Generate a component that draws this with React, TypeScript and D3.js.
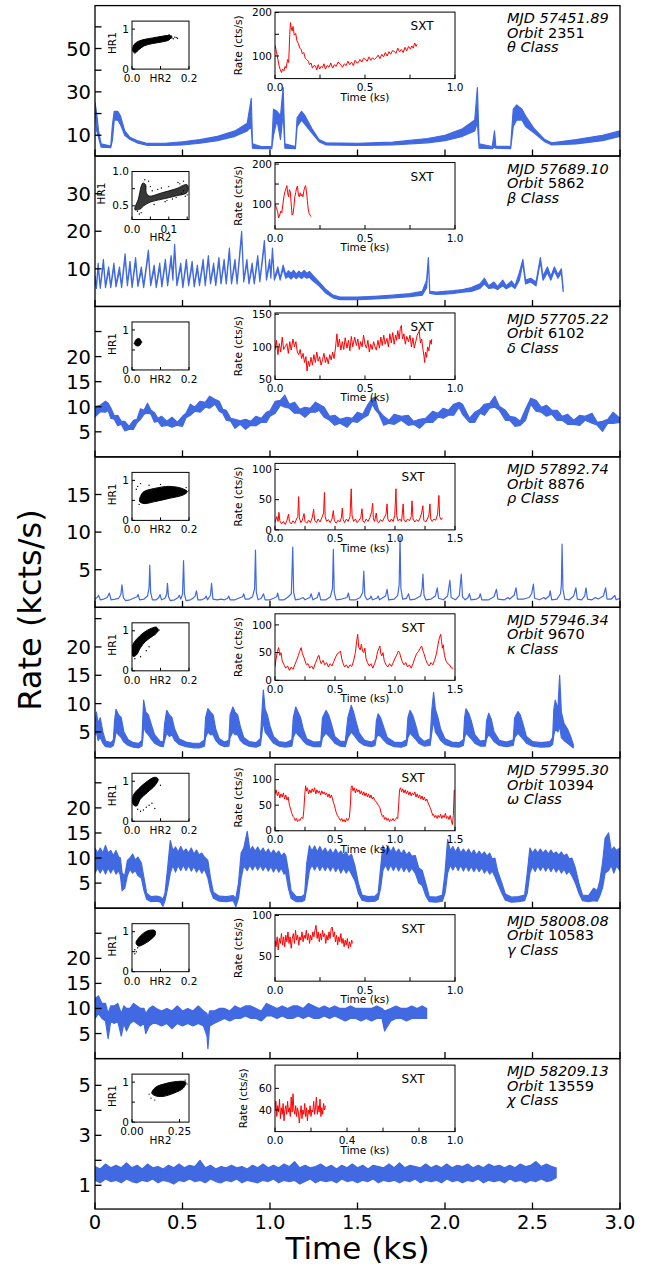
import React from "react";
import * as d3 from "d3";

// ---------- main light curves: [time (ks), low, high] in kcts/s ----------
const thetaLC = [
  [0, 22, 25], [0.01, 12, 20], [0.02, 9, 12], [0.035, 4.5, 6], [0.09, 4.3, 5], [0.1, 8, 15], [0.11, 17, 21],
  [0.13, 17, 21], [0.145, 15, 19], [0.17, 10, 12], [0.2, 8, 9], [0.24, 6.5, 7.5], [0.3, 5.3, 6.2], [0.4, 5.3, 6.3],
  [0.5, 5.5, 7], [0.6, 6.3, 8], [0.7, 7.5, 9.5], [0.8, 9.5, 12], [0.87, 12, 15.5], [0.893, 14, 27], [0.9, 4, 6],
  [0.95, 3.8, 4.8], [1.01, 3.8, 4.8], [1.02, 10, 22], [1.04, 17, 21], [1.06, 8, 19], [1.075, 20, 32], [1.085, 4, 6],
  [1.145, 3.8, 4.8], [1.155, 14, 18], [1.18, 17, 21], [1.2, 15, 19], [1.24, 11, 13], [1.28, 7, 8], [1.32, 5.5, 6.5],
  [1.5, 5.3, 6.3], [1.7, 5.5, 6.8], [1.9, 6.5, 8.5], [2.0, 7.5, 10], [2.1, 9.5, 13], [2.17, 12, 17], [2.185, 16, 32],
  [2.195, 4, 6], [2.27, 3.8, 4.8], [2.283, 4.5, 12], [2.29, 4, 5], [2.375, 3.8, 4.8], [2.39, 14, 22], [2.41, 17, 24],
  [2.44, 17, 22], [2.46, 14, 19], [2.51, 11, 13], [2.57, 7, 8], [2.61, 5.5, 6.5], [2.75, 6, 8], [2.9, 7.5, 10], [3.0, 9.5, 12],
];

const betaLC = [
  [0, 7, 8], [0.008, 4.8, 5.2], [0.018, 10.5, 11.5], [0.03, 4.8, 5.3], [0.048, 11.5, 12.5], [0.06, 5, 5.5],
  [0.078, 9.5, 10.5], [0.09, 5, 5.5], [0.108, 10.5, 11.5], [0.12, 5.2, 5.8], [0.14, 9.5, 10.5], [0.152, 5, 5.5],
  [0.172, 13, 14], [0.185, 5.5, 6], [0.2, 11, 12], [0.212, 5, 5.5], [0.232, 12, 13], [0.245, 5.3, 5.8],
  [0.265, 9.5, 10.5], [0.278, 5, 5.5], [0.305, 14, 15], [0.318, 5.5, 6], [0.338, 10, 11], [0.35, 5, 5.5],
  [0.37, 10.5, 11.5], [0.382, 5.2, 5.7], [0.402, 11.5, 12.5], [0.415, 5.5, 6], [0.435, 12.5, 13.5], [0.445, 7, 8],
  [0.455, 15.5, 16.5], [0.468, 5.5, 6], [0.49, 10.5, 11.5], [0.502, 5, 5.5], [0.522, 11.5, 12.5], [0.535, 5.5, 6],
  [0.555, 11, 12], [0.567, 5.2, 5.7], [0.585, 10, 11], [0.597, 5.5, 6], [0.618, 11.5, 12.5], [0.63, 5.5, 6],
  [0.648, 12.5, 13.5], [0.66, 6, 6.5], [0.678, 10.5, 11.5], [0.69, 5.5, 6], [0.708, 12, 13], [0.72, 6, 6.5],
  [0.738, 11.5, 12.5], [0.75, 6, 6.5], [0.768, 14.5, 15.5], [0.78, 6, 6.5], [0.8, 11.5, 12.5], [0.812, 6, 6.5],
  [0.838, 19, 20], [0.85, 6.5, 7], [0.868, 11.5, 12.5], [0.88, 6, 6.5], [0.898, 10.5, 11.5], [0.91, 6, 6.5],
  [0.93, 12.5, 13.5], [0.942, 6.5, 7], [0.968, 16.5, 17.5], [0.98, 7, 7.5], [0.998, 11.5, 12.5], [1.005, 7.5, 8],
  [1.014, 14.5, 15.5], [1.025, 7, 7.5], [1.045, 9.5, 10.5], [1.058, 7, 7.5], [1.075, 10, 11], [1.09, 7.5, 8.5],
  [1.105, 8, 9.5], [1.12, 7.3, 8.8], [1.135, 8, 9.6], [1.15, 7.4, 8.6], [1.165, 8, 9.4], [1.18, 7.4, 8.8],
  [1.195, 8, 9.6], [1.21, 7.5, 8.8], [1.225, 7.8, 9.3], [1.24, 7, 8.5], [1.28, 5.5, 6.5],
  [1.32, 3.5, 4.5], [1.36, 2.3, 3], [1.4, 1.8, 2.5], [1.5, 1.8, 2.5], [1.6, 2, 2.7], [1.7, 2.3, 3], [1.8, 2.6, 3.4],
  [1.87, 3, 4], [1.895, 5, 7], [1.905, 12, 13], [1.913, 3.5, 4], [1.95, 3.2, 3.8], [2.0, 3.3, 4], [2.05, 3.5, 4.2],
  [2.1, 3.8, 4.5], [2.15, 4, 5], [2.2, 4.8, 6], [2.225, 6, 7.5], [2.25, 4.8, 5.5], [2.28, 5, 6.5], [2.3, 4.5, 5.3],
  [2.33, 5.5, 7], [2.35, 4.7, 5.5], [2.38, 5.5, 6.8], [2.4, 4.8, 5.5], [2.425, 7, 9], [2.445, 11.5, 12.5],
  [2.46, 6, 7], [2.49, 6.5, 7.5], [2.52, 5.5, 6.5], [2.545, 12, 13], [2.56, 7, 8], [2.585, 9, 10.5],
  [2.605, 7, 8], [2.625, 9.5, 10.5], [2.645, 7.5, 8.5], [2.665, 9, 10], [2.675, 4, 5],
];

const deltaLC = [
  [0, 8, 10], [0.03, 9, 10.3], [0.06, 8.9, 11.1], [0.075, 9.3, 10.7], [0.09, 7.7, 9.8], [0.11, 7.5, 8.2],
  [0.13, 6.2, 8.3], [0.15, 6.5, 7.1], [0.17, 5.2, 7.1], [0.195, 5.5, 6.1], [0.22, 5.5, 7.3], [0.24, 6.8, 7.5],
  [0.26, 7.5, 9.6], [0.28, 8.5, 9.3], [0.3, 8.7, 10.7], [0.32, 8.5, 9.3], [0.34, 6.9, 8.8], [0.36, 7.1, 7.7],
  [0.38, 6.1, 8.1], [0.41, 6.3, 7.1], [0.44, 5.9, 7.9], [0.47, 6.3, 6.9], [0.5, 6.1, 8.1], [0.52, 7.8, 8.7],
  [0.545, 8.3, 10.5], [0.57, 9.1, 9.9], [0.6, 8.9, 11.1], [0.63, 9.9, 10.9], [0.655, 9.7, 12.1], [0.685, 10.5, 11.5],
  [0.71, 9.1, 11.1], [0.73, 8.7, 9.5], [0.75, 7.3, 9.3], [0.775, 7.1, 7.7], [0.8, 5.7, 7.5], [0.83, 6.5, 7.2],
  [0.86, 5.5, 7.5], [0.89, 6.3, 7.1], [0.92, 6.2, 8.1], [0.95, 6.9, 7.7], [0.98, 6.9, 8.9], [1.0, 8.1, 9.2],
  [1.03, 8.7, 11.1], [1.06, 10.3, 11.3], [1.085, 9.9, 12.3], [1.11, 9.7, 10.5], [1.14, 8.7, 10.9], [1.17, 8.7, 9.5],
  [1.2, 7.9, 9.9], [1.23, 8.9, 9.7], [1.26, 8.9, 10.9], [1.28, 9.3, 10.5], [1.31, 7.9, 9.9], [1.34, 7.3, 8.1],
  [1.37, 6.3, 8.3], [1.4, 6.7, 7.5], [1.44, 5.9, 7.9], [1.47, 7.1, 7.7], [1.5, 6.9, 8.9], [1.53, 7.7, 8.5],
  [1.56, 8.3, 10.5], [1.585, 10.5, 11.7], [1.6, 9.5, 11.9], [1.62, 8.7, 9.3], [1.65, 6.3, 8.1], [1.68, 6.7, 7.3],
  [1.71, 6.5, 8.5], [1.75, 7.3, 8.1], [1.79, 6.3, 8.3], [1.82, 6.5, 7.1], [1.855, 5.7, 7.5], [1.89, 6.9, 7.7],
  [1.93, 6.9, 9.1], [1.96, 7.9, 8.7], [1.99, 7.7, 9.7], [2.02, 8.3, 9.3], [2.05, 8.3, 10.5], [2.08, 9.9, 10.9],
  [2.1, 8.5, 10.5], [2.14, 6.9, 7.7], [2.17, 6.9, 8.9], [2.2, 8.7, 9.5], [2.225, 8.3, 10.5], [2.255, 9.7, 10.7],
  [2.285, 9.9, 12.1], [2.31, 9.3, 10.1], [2.345, 7.3, 9.3], [2.37, 7.3, 8.1], [2.4, 6.1, 7.9], [2.43, 6.3, 7.1],
  [2.46, 7.3, 9.5], [2.49, 10.5, 11.7], [2.52, 9.1, 11.3], [2.55, 8.9, 9.9], [2.58, 8.1, 10.3], [2.61, 8.5, 9.3],
  [2.64, 7.3, 9.3], [2.67, 7.3, 8.1], [2.7, 6.5, 8.5], [2.735, 6.5, 7.3], [2.77, 6.3, 8.3], [2.8, 7.3, 8.1],
  [2.84, 6.7, 8.7], [2.87, 6.3, 6.9], [2.9, 5.1, 7.1], [2.93, 6.7, 7.5], [2.96, 6.7, 8.9], [3.0, 6.9, 7.7],
];

const rhoLC = [
  [0, 1.1], [0.012, 1.3], [0.02, 1.6], [0.03, 1.0], [0.05, 1.1], [0.07, 1.3], [0.082, 1.9], [0.092, 1.0],
  [0.115, 1.1], [0.135, 1.2], [0.148, 1.7], [0.154, 3.0], [0.162, 1.3], [0.175, 0.9], [0.2, 1.0], [0.22, 1.2],
  [0.24, 1.4], [0.246, 1.7], [0.255, 1.0], [0.28, 1.1], [0.3, 1.5], [0.309, 2.6], [0.313, 5.6], [0.318, 2.0],
  [0.328, 1.0], [0.35, 1.0], [0.365, 1.3], [0.372, 1.7], [0.38, 1.0], [0.4, 1.2], [0.41, 1.8], [0.414, 3.2],
  [0.42, 1.4], [0.43, 0.9], [0.455, 1.0], [0.475, 1.3], [0.482, 1.6], [0.49, 1.1], [0.5, 1.7], [0.506, 6.2],
  [0.511, 1.8], [0.52, 0.9], [0.545, 1.0], [0.56, 1.2], [0.572, 1.5], [0.58, 2.2], [0.588, 1.0], [0.61, 1.0],
  [0.628, 1.2], [0.635, 1.5], [0.643, 1.0], [0.66, 1.6], [0.666, 3.2], [0.674, 1.1], [0.7, 1.0], [0.72, 1.1],
  [0.74, 1.0], [0.758, 1.2], [0.764, 1.5], [0.772, 1.0], [0.8, 1.0], [0.82, 1.2], [0.843, 1.4], [0.85, 1.8],
  [0.858, 1.1], [0.88, 1.1], [0.9, 1.4], [0.912, 2.5], [0.917, 7.6], [0.922, 2.0], [0.932, 1.0], [0.95, 1.2],
  [0.963, 1.8], [0.972, 1.0], [1.0, 1.0], [1.02, 1.2], [1.038, 1.4], [1.044, 1.9], [1.052, 1.0], [1.08, 1.0],
  [1.1, 1.3], [1.122, 1.8], [1.13, 8.0], [1.135, 2.0], [1.145, 1.0], [1.17, 1.1], [1.19, 1.3], [1.2, 1.0],
  [1.228, 1.3], [1.235, 1.8], [1.245, 1.0], [1.27, 1.3], [1.28, 2.0], [1.29, 1.0], [1.32, 1.0], [1.345, 1.4],
  [1.357, 2.5], [1.362, 7.7], [1.367, 2.0], [1.378, 1.0], [1.41, 1.1], [1.44, 1.3], [1.448, 1.9], [1.456, 1.0],
  [1.49, 1.0], [1.515, 1.3], [1.53, 2.0], [1.536, 4.8], [1.542, 1.5], [1.555, 1.0], [1.572, 1.2], [1.577, 1.5],
  [1.585, 1.0], [1.61, 1.2], [1.618, 1.5], [1.626, 1.0], [1.66, 1.5], [1.669, 2.4], [1.678, 1.0], [1.71, 1.1],
  [1.73, 1.6], [1.738, 3.0], [1.743, 9.3], [1.748, 2.5], [1.758, 1.1], [1.78, 1.2], [1.792, 1.8], [1.8, 1.0],
  [1.83, 1.1], [1.86, 1.5], [1.869, 2.5], [1.874, 4.4], [1.88, 1.6], [1.89, 1.0], [1.92, 1.1], [1.945, 1.5],
  [1.956, 2.6], [1.963, 1.2], [1.99, 1.0], [2.015, 1.5], [2.028, 3.6], [2.035, 1.3], [2.06, 1.0], [2.082, 1.6],
  [2.093, 4.4], [2.1, 1.4], [2.115, 1.0], [2.132, 1.3], [2.14, 1.8], [2.148, 1.0], [2.18, 1.1], [2.195, 1.3],
  [2.202, 1.8], [2.21, 1.0], [2.25, 1.0], [2.28, 1.4], [2.294, 2.4], [2.302, 1.1], [2.34, 1.0], [2.36, 1.3],
  [2.37, 1.1], [2.395, 1.6], [2.406, 2.6], [2.414, 1.1], [2.45, 1.1], [2.48, 1.3], [2.495, 1.8], [2.505, 3.1],
  [2.512, 1.2], [2.54, 1.0], [2.565, 1.3], [2.575, 1.1], [2.595, 1.5], [2.601, 2.2], [2.61, 1.0], [2.64, 1.1],
  [2.66, 1.8], [2.665, 3.0], [2.669, 8.4], [2.674, 2.4], [2.684, 1.1], [2.71, 1.0], [2.735, 1.5], [2.748, 2.6],
  [2.756, 1.1], [2.78, 1.0], [2.798, 1.5], [2.806, 2.6], [2.814, 1.1], [2.84, 1.0], [2.86, 1.3], [2.875, 1.1],
  [2.905, 1.5], [2.918, 2.6], [2.926, 1.1], [2.95, 1.1], [2.963, 1.4], [2.97, 1.6], [2.978, 1.0], [3.0, 1.2],
];

const kappaLC = [
  [0, 4.5, 6], [0.008, 5, 8.5], [0.018, 3.5, 6.5], [0.03, 4, 7.5], [0.045, 3, 5], [0.06, 2.4, 3.4], [0.09, 2.3, 3.1],
  [0.105, 2.6, 3.6], [0.112, 3.5, 7], [0.12, 5, 9], [0.135, 4.5, 8], [0.15, 4, 7.5], [0.165, 3.2, 5], [0.19, 2.6, 3.6],
  [0.22, 2.3, 3.1], [0.25, 2.2, 3], [0.268, 2.5, 3.5], [0.274, 4, 8], [0.278, 6, 10.6], [0.29, 5, 8.5], [0.305, 4.5, 8],
  [0.32, 3.8, 6.5], [0.34, 3, 4.5], [0.37, 2.5, 3.4], [0.39, 2.4, 3.2], [0.398, 3.5, 6.5], [0.41, 4.8, 8.8],
  [0.425, 4.2, 8], [0.44, 4.5, 7.5], [0.455, 3.5, 5.5], [0.48, 2.8, 3.8], [0.52, 2.4, 3.2], [0.56, 2.2, 3],
  [0.6, 2.2, 3], [0.625, 2.5, 3.6], [0.632, 4, 7.5], [0.645, 5, 9.1], [0.66, 4.5, 8.5], [0.675, 4.5, 8],
  [0.69, 3.5, 5.5], [0.71, 2.8, 3.8], [0.74, 2.4, 3.2], [0.765, 2.5, 3.5], [0.772, 4, 8], [0.788, 5, 9.4],
  [0.8, 4.5, 8.5], [0.815, 4.5, 8], [0.83, 3.5, 6], [0.85, 2.9, 4], [0.88, 2.5, 3.3], [0.92, 2.3, 3.1],
  [0.945, 2.6, 3.8], [0.955, 5, 9], [0.962, 7, 12.4], [0.972, 5, 9], [0.985, 4.5, 8], [1.0, 3.8, 6], [1.02, 3, 4.2],
  [1.05, 2.5, 3.3], [1.09, 2.3, 3.1], [1.125, 2.5, 3.6], [1.133, 4, 7.5], [1.147, 5, 9.4], [1.16, 4.5, 8.5],
  [1.175, 4, 7.5], [1.19, 3.4, 5.5], [1.21, 2.8, 3.8], [1.25, 2.4, 3.2], [1.29, 2.4, 3.3], [1.3, 4, 7.5],
  [1.32, 4.8, 8.8], [1.335, 4.3, 8], [1.35, 3.8, 6.5], [1.37, 3, 4.2], [1.4, 2.5, 3.4], [1.43, 2.4, 3.3],
  [1.445, 4, 7.5], [1.464, 5, 9.7], [1.478, 4.5, 8.5], [1.49, 4, 7], [1.51, 3.2, 4.8], [1.54, 2.6, 3.5],
  [1.58, 2.4, 3.2], [1.6, 2.6, 3.6], [1.608, 4, 7], [1.618, 4.5, 8.2], [1.632, 4.2, 7.5], [1.648, 3.6, 6],
  [1.67, 2.9, 4], [1.71, 2.4, 3.2], [1.75, 2.3, 3.1], [1.78, 2.6, 3.6], [1.788, 4, 7.5], [1.8, 4.8, 8.8],
  [1.815, 4.3, 8], [1.83, 3.8, 6.5], [1.85, 3, 4.2], [1.88, 2.5, 3.3], [1.915, 2.6, 3.8], [1.925, 5, 9],
  [1.935, 7, 12], [1.945, 5, 9], [1.96, 4.3, 7.5], [1.975, 3.5, 5.5], [2.0, 2.8, 3.8], [2.04, 2.4, 3.2],
  [2.08, 2.3, 3.1], [2.105, 2.6, 3.6], [2.112, 4, 7.5], [2.12, 4.8, 9.1], [2.135, 4.3, 8.3], [2.15, 3.8, 7],
  [2.17, 3, 4.5], [2.2, 2.5, 3.4], [2.23, 2.5, 3.5], [2.238, 3.8, 7], [2.25, 4.5, 8.3], [2.265, 4, 7.2],
  [2.28, 3.3, 5], [2.31, 2.6, 3.5], [2.35, 2.4, 3.2], [2.39, 2.6, 3.6], [2.398, 4, 7.5], [2.417, 4.8, 8.6],
  [2.43, 4.3, 8], [2.445, 3.8, 6.5], [2.465, 3, 4.2], [2.5, 2.5, 3.3], [2.55, 2.3, 3.1], [2.6, 2.4, 3.3],
  [2.615, 2.8, 4], [2.622, 4.5, 9], [2.63, 5.5, 10.6], [2.645, 5, 9], [2.655, 6, 15], [2.665, 4, 8.5],
  [2.68, 3.5, 6.5], [2.7, 3, 5.5], [2.72, 2.5, 4], [2.733, 2.2, 2.8],
];

const omegaLC = [
  [0, 7, 12], [0.015, 8, 11], [0.03, 7, 12], [0.045, 8, 11], [0.06, 6.8, 12.5], [0.075, 8, 11], [0.09, 7, 11.5],
  [0.105, 8, 10.5], [0.12, 6.8, 11.5], [0.135, 7.5, 10.2], [0.145, 6.5, 10], [0.155, 3.5, 7], [0.17, 4, 6.5],
  [0.185, 6.5, 9.5], [0.2, 7.8, 10], [0.215, 7, 10.8], [0.23, 7.5, 9.6], [0.245, 6.5, 10.2], [0.265, 6, 9],
  [0.28, 3.5, 6], [0.295, 1.8, 3], [0.32, 1.3, 2.3], [0.35, 1.4, 2.4], [0.375, 1.2, 2.2], [0.388, 0.4, 1.8],
  [0.4, 1.5, 3], [0.415, 4, 8], [0.43, 7, 13.5], [0.445, 8.5, 11.5], [0.46, 7.2, 12.2], [0.475, 8.5, 11.2],
  [0.49, 7.5, 12.3], [0.505, 8.6, 11.2], [0.52, 7.5, 11.8], [0.535, 8.5, 11], [0.55, 7.4, 12], [0.565, 8.3, 10.8],
  [0.58, 7.2, 11.6], [0.595, 8, 10.6], [0.61, 7, 11], [0.625, 7.8, 10.2], [0.645, 6, 9.5], [0.66, 3.5, 6],
  [0.676, 2, 3.2], [0.71, 1.4, 2.4], [0.75, 1.3, 2.3], [0.79, 1.5, 2.5], [0.805, 0.3, 2], [0.82, 2, 5],
  [0.835, 6, 11], [0.85, 8.5, 12], [0.87, 7.5, 15.3], [0.885, 8.6, 11.5], [0.9, 7.6, 12.3], [0.915, 8.6, 11.4],
  [0.93, 7.6, 12.2], [0.945, 8.5, 11.2], [0.96, 7.5, 12], [0.975, 8.4, 11], [0.99, 7.4, 11.8], [1.005, 8.3, 10.8],
  [1.02, 7.2, 11.6], [1.035, 8.2, 10.8], [1.05, 7.2, 11.4], [1.065, 8, 10.4], [1.08, 6.8, 11], [1.09, 7, 10.5],
  [1.105, 4, 7.5], [1.12, 2, 3.5], [1.15, 1.3, 2.3], [1.18, 1.3, 2.3], [1.198, 1.6, 2.8], [1.21, 4, 9],
  [1.225, 7.5, 12.5], [1.24, 8.6, 11.4], [1.255, 7.6, 12.4], [1.27, 8.6, 11.2], [1.285, 7.5, 12.3], [1.3, 8.5, 11.2],
  [1.315, 7.5, 12], [1.33, 8.4, 11], [1.345, 7.4, 11.8], [1.36, 8.4, 10.8], [1.375, 7.3, 11.8], [1.39, 8.2, 10.8],
  [1.405, 7, 11.4], [1.42, 8, 10.6], [1.435, 7, 11.2], [1.45, 7.8, 10.2], [1.465, 6.8, 10.8], [1.485, 5.5, 8.5],
  [1.505, 3, 5], [1.526, 1.6, 2.6], [1.56, 1.3, 2.3], [1.6, 1.4, 2.4], [1.618, 1.8, 3], [1.632, 4, 8],
  [1.645, 7.5, 12.5], [1.66, 8.6, 11.4], [1.675, 7.5, 12.4], [1.69, 8.6, 11.2], [1.705, 7.5, 12.2], [1.72, 8.5, 11],
  [1.735, 7.4, 11.8], [1.75, 8.4, 10.8], [1.765, 7.3, 11.6], [1.78, 8.2, 10.6], [1.795, 7.2, 11.2], [1.81, 8, 10.4],
  [1.83, 7, 10.5], [1.85, 5, 8], [1.87, 4.5, 7.5], [1.89, 2.5, 5], [1.91, 1.3, 2.3], [1.95, 1.2, 2.2],
  [1.985, 1.4, 2.6], [2.0, 3, 7], [2.015, 7, 13.7], [2.03, 8.6, 11.5], [2.045, 7.6, 12.3], [2.06, 8.6, 11.2],
  [2.075, 7.5, 12.2], [2.09, 8.5, 11], [2.105, 7.4, 11.8], [2.12, 8.4, 11], [2.135, 7.4, 11.8], [2.15, 8.3, 10.8],
  [2.165, 7.3, 11.6], [2.18, 8.2, 10.6], [2.195, 7.3, 11.4], [2.21, 8.1, 10.6], [2.225, 7, 11.2], [2.24, 7.8, 10.4],
  [2.255, 6.8, 11], [2.27, 7.4, 9.8], [2.285, 6.3, 10], [2.3, 5, 7.5], [2.325, 3, 5], [2.345, 1.6, 2.8],
  [2.38, 1.2, 2.2], [2.42, 1.3, 2.3], [2.455, 1.5, 2.6], [2.47, 3, 7], [2.485, 7, 12], [2.5, 8.3, 11],
  [2.515, 7.3, 11.8], [2.53, 8.4, 11], [2.545, 7.5, 11.8], [2.56, 8.4, 11], [2.575, 7.4, 11.6], [2.59, 8.3, 10.8],
  [2.605, 7.3, 11.6], [2.62, 8.2, 10.8], [2.635, 7.2, 11.2], [2.65, 8, 10.6], [2.665, 7, 11.2], [2.68, 7.8, 10.4],
  [2.695, 6.8, 10.8], [2.71, 7.4, 9.8], [2.725, 6.5, 10], [2.745, 5, 8], [2.765, 3, 5], [2.786, 1.5, 2.6],
  [2.82, 1.3, 2.5], [2.85, 1.5, 4], [2.87, 1.4, 3.5], [2.885, 2.5, 5.5], [2.9, 4, 9], [2.915, 7, 14],
  [2.935, 7.5, 15], [2.95, 8.5, 11.5], [2.965, 7, 12.2], [2.98, 8.4, 11.5], [3.0, 7.5, 12],
];

const gammaLC = [
  [0, 8, 12], [0.02, 9, 12.5], [0.04, 8, 11], [0.06, 7.5, 11], [0.075, 4, 9], [0.09, 7.5, 10.5], [0.11, 7, 10.5],
  [0.13, 7.5, 11], [0.15, 4.5, 9], [0.165, 7, 10.5], [0.18, 5.5, 10], [0.2, 7, 10], [0.22, 7.5, 11], [0.24, 7, 10.5],
  [0.26, 6.5, 10], [0.28, 7, 10], [0.29, 5, 9], [0.31, 6.5, 10], [0.33, 7, 10.5], [0.35, 7, 10], [0.38, 6.5, 9.5],
  [0.41, 7, 10], [0.44, 6, 9.5], [0.47, 7, 10.5], [0.5, 6.5, 9.5], [0.53, 7, 10], [0.56, 6.5, 9.5], [0.59, 7, 10.5],
  [0.62, 6.5, 9.5], [0.64, 4.5, 9], [0.645, 2, 8], [0.655, 6.5, 9.5], [0.68, 7, 9.5], [0.71, 7.5, 10], [0.74, 8, 10],
  [0.77, 7.5, 9.5], [0.8, 8, 10.5], [0.83, 8, 10], [0.86, 8.5, 10.5], [0.89, 8, 10.5], [0.92, 8, 10], [0.95, 7.5, 9.5],
  [0.98, 8.5, 11], [1.01, 8.5, 10.5], [1.04, 8, 10], [1.07, 8.5, 10.5], [1.1, 8, 10], [1.13, 8, 10.5],
  [1.16, 8.5, 10.5], [1.19, 8, 10], [1.22, 8.5, 11], [1.25, 8, 10.5], [1.28, 8, 10], [1.31, 8.5, 10.5],
  [1.34, 8, 10], [1.37, 8.5, 10.5], [1.4, 8, 10], [1.43, 7.5, 10], [1.46, 8, 10.5], [1.49, 8, 10], [1.52, 7.5, 10],
  [1.55, 8, 10], [1.58, 7.5, 10], [1.61, 8, 10.5], [1.64, 8, 10], [1.655, 5.5, 9.5], [1.69, 7.5, 10],
  [1.72, 8, 10.5], [1.75, 8, 10], [1.78, 7.5, 10], [1.81, 8, 10.5], [1.84, 8, 10], [1.87, 8, 10.5], [1.895, 8, 10],
];

const chiLC = [
  [0, 1.2, 1.75], [0.03, 1.1, 1.65], [0.06, 1.25, 1.85], [0.09, 1.15, 1.7], [0.12, 1.2, 1.8], [0.15, 1.1, 1.7],
  [0.18, 1.25, 1.9], [0.21, 1.15, 1.7], [0.24, 1.1, 1.8], [0.27, 1.2, 1.65], [0.3, 1.15, 1.85], [0.33, 1.25, 1.7],
  [0.36, 1.1, 1.75], [0.39, 1.2, 1.65], [0.42, 1.15, 1.8], [0.45, 1.05, 1.7], [0.48, 1.2, 1.85], [0.51, 1.15, 1.7],
  [0.54, 1.25, 1.8], [0.57, 1.15, 1.75], [0.6, 1.2, 2.0], [0.63, 1.1, 1.7], [0.66, 1.25, 1.8], [0.69, 1.15, 1.65],
  [0.72, 1.1, 1.75], [0.75, 1.2, 1.7], [0.78, 1.15, 1.8], [0.81, 1.25, 1.7], [0.84, 1.1, 1.75], [0.87, 1.2, 1.65],
  [0.9, 1.15, 1.8], [0.93, 1.1, 1.7], [0.96, 1.2, 1.85], [0.99, 1.15, 1.7], [1.02, 1.25, 1.8], [1.05, 1.1, 1.7],
  [1.08, 1.2, 1.85], [1.11, 1.15, 1.75], [1.14, 1.2, 1.95], [1.17, 1.05, 1.7], [1.2, 1.15, 1.8], [1.23, 1.25, 1.7],
  [1.26, 1.1, 1.75], [1.29, 1.2, 1.85], [1.32, 1.15, 1.7], [1.35, 1.2, 1.8], [1.38, 1.1, 1.65], [1.41, 1.25, 1.8],
  [1.44, 1.15, 1.7], [1.47, 1.2, 1.85], [1.5, 1.1, 1.7], [1.53, 1.2, 1.8], [1.56, 1.15, 1.65], [1.59, 1.25, 1.8],
  [1.62, 1.1, 1.75], [1.65, 1.2, 1.7], [1.68, 1.15, 1.85], [1.71, 1.2, 1.7], [1.74, 1.1, 1.9], [1.77, 1.2, 1.7],
  [1.8, 1.15, 1.8], [1.83, 1.25, 1.75], [1.86, 1.1, 1.7], [1.89, 1.2, 1.85], [1.92, 1.15, 1.7], [1.95, 1.2, 1.8],
  [1.98, 1.1, 1.7], [2.01, 1.25, 1.85], [2.04, 1.15, 1.7], [2.07, 1.2, 1.8], [2.1, 1.1, 1.75], [2.13, 1.2, 1.85],
  [2.16, 1.15, 1.7], [2.19, 1.25, 1.8], [2.22, 1.1, 1.7], [2.25, 1.2, 1.85], [2.28, 1.15, 1.75], [2.31, 1.2, 1.8],
  [2.34, 1.1, 1.7], [2.37, 1.25, 1.8], [2.4, 1.15, 1.7], [2.43, 1.2, 1.85], [2.46, 1.1, 1.75], [2.49, 1.2, 1.8],
  [2.52, 1.15, 1.95], [2.55, 1.25, 1.75], [2.58, 1.15, 1.85], [2.61, 1.2, 1.75], [2.635, 1.3, 1.7],
];

// ---------- SXT inset light curves: [time (ks), rate (cts/s)] ----------
const sxtTheta = [
  [0, 125], [0.008, 110], [0.016, 92], [0.024, 75], [0.03, 68], [0.036, 62], [0.042, 70], [0.05, 66], [0.056, 76],
  [0.062, 72], [0.07, 92], [0.076, 85], [0.082, 150], [0.086, 177], [0.09, 165], [0.095, 158], [0.1, 168],
  [0.107, 148], [0.115, 152], [0.122, 135], [0.13, 128], [0.138, 118], [0.145, 115], [0.152, 105], [0.16, 108],
  [0.168, 95], [0.176, 92], [0.185, 88], [0.192, 80], [0.2, 84], [0.208, 72], [0.216, 78], [0.225, 77], [0.232, 68],
  [0.24, 80], [0.248, 70], [0.256, 76], [0.264, 73], [0.272, 82], [0.28, 70], [0.29, 78], [0.3, 74], [0.31, 84],
  [0.32, 72], [0.33, 80], [0.34, 76], [0.35, 86], [0.364, 81], [0.375, 74], [0.385, 82], [0.395, 78], [0.405, 88],
  [0.415, 80], [0.425, 86], [0.435, 78], [0.445, 90], [0.455, 84], [0.463, 85], [0.472, 92], [0.482, 86],
  [0.492, 95], [0.503, 92], [0.512, 88], [0.522, 98], [0.532, 90], [0.542, 96], [0.552, 92], [0.563, 96],
  [0.573, 102], [0.583, 94], [0.593, 104], [0.603, 98], [0.613, 108], [0.623, 100], [0.633, 110], [0.643, 104],
  [0.652, 112], [0.662, 111], [0.672, 106], [0.682, 118], [0.692, 110], [0.702, 115], [0.712, 108], [0.722, 120],
  [0.732, 112], [0.742, 122], [0.752, 116], [0.76, 123], [0.768, 118], [0.776, 130], [0.784, 122], [0.79, 127],
];
const sxtBeta = [
  [0, 100], [0.008, 90], [0.015, 80], [0.02, 65], [0.026, 72], [0.032, 82], [0.038, 78], [0.044, 100], [0.05, 120],
  [0.056, 132], [0.062, 140], [0.066, 146], [0.07, 128], [0.075, 118], [0.08, 136], [0.085, 130], [0.09, 100],
  [0.095, 72], [0.1, 75], [0.105, 92], [0.11, 118], [0.115, 128], [0.12, 140], [0.125, 145], [0.13, 122],
  [0.135, 118], [0.14, 128], [0.145, 120], [0.15, 124], [0.155, 118], [0.16, 132], [0.165, 142], [0.17, 146],
  [0.175, 130], [0.18, 108], [0.185, 85], [0.19, 76], [0.195, 72], [0.2, 68],
];
const sxtDelta = [
  [0, 95], [0.008, 110], [0.016, 88], [0.024, 105], [0.032, 92], [0.04, 115], [0.048, 96], [0.056, 100],
  [0.066, 105], [0.074, 90], [0.082, 108], [0.09, 95], [0.1, 112], [0.108, 100], [0.116, 108], [0.124, 92],
  [0.132, 88], [0.14, 96], [0.148, 82], [0.156, 90], [0.164, 76], [0.172, 85], [0.178, 63], [0.185, 78],
  [0.192, 70], [0.2, 84], [0.208, 72], [0.216, 88], [0.224, 76], [0.232, 92], [0.24, 78], [0.248, 85],
  [0.256, 72], [0.264, 80], [0.272, 90], [0.28, 76], [0.288, 84], [0.296, 74], [0.304, 88], [0.312, 80],
  [0.32, 92], [0.328, 82], [0.336, 98], [0.344, 120], [0.35, 100], [0.358, 112], [0.366, 95], [0.374, 108],
  [0.382, 96], [0.39, 114], [0.4, 98], [0.408, 110], [0.416, 94], [0.424, 116], [0.432, 100], [0.443, 115],
  [0.452, 102], [0.46, 112], [0.468, 96], [0.476, 108], [0.484, 100], [0.492, 118], [0.5, 104], [0.508, 98],
  [0.516, 110], [0.524, 92], [0.532, 104], [0.54, 96], [0.548, 108], [0.556, 100], [0.563, 95], [0.572, 110],
  [0.58, 98], [0.588, 115], [0.596, 102], [0.604, 118], [0.612, 104], [0.622, 113], [0.63, 100], [0.638, 120],
  [0.646, 106], [0.654, 122], [0.662, 104], [0.67, 118], [0.676, 110], [0.682, 125], [0.69, 112], [0.696, 128],
  [0.702, 133], [0.708, 112], [0.716, 120], [0.724, 104], [0.732, 116], [0.742, 108], [0.75, 118], [0.758, 100],
  [0.766, 114], [0.774, 98], [0.782, 108], [0.79, 118], [0.801, 124], [0.808, 106], [0.815, 112], [0.822, 96],
  [0.828, 85], [0.831, 76], [0.836, 92], [0.842, 84], [0.848, 100], [0.855, 94], [0.862, 110], [0.868, 104],
  [0.871, 112],
];
const sxtRho = [
  [0, 12], [0.015, 22], [0.025, 14], [0.033, 29], [0.04, 15], [0.055, 10], [0.07, 14], [0.085, 9], [0.1, 16],
  [0.113, 26], [0.12, 14], [0.135, 10], [0.15, 15], [0.165, 11], [0.18, 18], [0.19, 22], [0.197, 55], [0.203, 20],
  [0.215, 12], [0.228, 16], [0.242, 27], [0.25, 14], [0.265, 11], [0.28, 16], [0.295, 12], [0.31, 20], [0.322, 34],
  [0.33, 16], [0.345, 12], [0.36, 18], [0.375, 13], [0.39, 20], [0.405, 28], [0.412, 62], [0.418, 22], [0.43, 14],
  [0.445, 17], [0.46, 12], [0.475, 18], [0.486, 32], [0.495, 15], [0.51, 11], [0.525, 16], [0.54, 13], [0.553, 20],
  [0.561, 36], [0.568, 17], [0.58, 12], [0.595, 18], [0.61, 14], [0.625, 22], [0.635, 68], [0.642, 24], [0.655, 14],
  [0.67, 18], [0.685, 12], [0.7, 16], [0.715, 20], [0.725, 35], [0.732, 15], [0.745, 12], [0.76, 18], [0.775, 14],
  [0.79, 20], [0.805, 30], [0.814, 44], [0.82, 18], [0.83, 14], [0.844, 28], [0.852, 14], [0.865, 12], [0.88, 17],
  [0.895, 14], [0.91, 20], [0.925, 26], [0.934, 43], [0.94, 18], [0.955, 13], [0.97, 18], [0.985, 14], [0.998, 24],
  [1.008, 68], [1.014, 24], [1.025, 15], [1.04, 18], [1.055, 14], [1.068, 43], [1.075, 17], [1.09, 13], [1.105, 18],
  [1.12, 15], [1.135, 22], [1.142, 48], [1.15, 18], [1.165, 13], [1.18, 17], [1.195, 14], [1.21, 20], [1.222, 28],
  [1.232, 40], [1.24, 16], [1.255, 13], [1.27, 18], [1.283, 25], [1.291, 43], [1.298, 18], [1.31, 14], [1.325, 18],
  [1.34, 16], [1.355, 26], [1.366, 57], [1.372, 22], [1.385, 17], [1.396, 20],
];
const sxtKappa = [
  [0, 25], [0.01, 40], [0.02, 52], [0.03, 59], [0.04, 45], [0.05, 50], [0.06, 35], [0.075, 28], [0.09, 22],
  [0.105, 26], [0.12, 18], [0.135, 24], [0.15, 20], [0.165, 28], [0.18, 36], [0.195, 45], [0.205, 52], [0.218, 59],
  [0.228, 48], [0.24, 42], [0.25, 35], [0.262, 28], [0.275, 30], [0.29, 22], [0.305, 26], [0.32, 20], [0.335, 30],
  [0.35, 38], [0.36, 44], [0.367, 45], [0.375, 36], [0.385, 30], [0.4, 36], [0.415, 28], [0.43, 32], [0.445, 24],
  [0.46, 30], [0.475, 26], [0.49, 34], [0.505, 42], [0.52, 48], [0.535, 50], [0.546, 53], [0.555, 40], [0.565, 32],
  [0.58, 24], [0.595, 28], [0.61, 22], [0.625, 28], [0.64, 25], [0.655, 35], [0.67, 50], [0.68, 70], [0.689, 83],
  [0.698, 60], [0.71, 55], [0.72, 65], [0.73, 52], [0.74, 50], [0.749, 58], [0.758, 40], [0.77, 32], [0.785, 26],
  [0.8, 30], [0.815, 22], [0.83, 30], [0.845, 40], [0.855, 52], [0.865, 57], [0.874, 62], [0.882, 48], [0.89, 44],
  [0.9, 50], [0.91, 36], [0.925, 28], [0.94, 24], [0.955, 30], [0.97, 25], [0.985, 32], [1.0, 40], [1.015, 46],
  [1.028, 53], [1.038, 50], [1.048, 42], [1.06, 34], [1.075, 28], [1.09, 32], [1.105, 24], [1.12, 28], [1.135, 22],
  [1.15, 30], [1.165, 40], [1.18, 48], [1.195, 52], [1.21, 58], [1.222, 62], [1.232, 54], [1.242, 48], [1.255, 38],
  [1.27, 30], [1.285, 26], [1.3, 32], [1.315, 28], [1.33, 36], [1.345, 48], [1.355, 60], [1.365, 72], [1.372, 78],
  [1.381, 83], [1.388, 70], [1.395, 58], [1.402, 64], [1.412, 45], [1.425, 35], [1.44, 30], [1.455, 28], [1.47, 22],
  [1.485, 22],
];
const sxtOmega = [
  [0, 72], [0.01, 80], [0.02, 68], [0.03, 76], [0.04, 64], [0.05, 72], [0.06, 66], [0.07, 74], [0.08, 62], [0.09, 70],
  [0.1, 60], [0.11, 66], [0.12, 50], [0.13, 42], [0.14, 34], [0.15, 28], [0.158, 26], [0.168, 20], [0.178, 24],
  [0.188, 18], [0.198, 22], [0.21, 20], [0.22, 26], [0.233, 24], [0.24, 40], [0.248, 70], [0.255, 88], [0.262, 78],
  [0.27, 84], [0.28, 72], [0.29, 80], [0.3, 74], [0.31, 82], [0.32, 76], [0.33, 84], [0.34, 72], [0.35, 80],
  [0.36, 74], [0.37, 78], [0.38, 70], [0.39, 78], [0.4, 72], [0.41, 76], [0.42, 70], [0.43, 74], [0.44, 66],
  [0.45, 72], [0.46, 64], [0.47, 70], [0.48, 62], [0.486, 56], [0.495, 50], [0.501, 44], [0.51, 36], [0.52, 30],
  [0.53, 26], [0.546, 20], [0.556, 24], [0.566, 18], [0.576, 22], [0.586, 17], [0.596, 24], [0.606, 20], [0.62, 26],
  [0.628, 50], [0.635, 85], [0.642, 88], [0.65, 78], [0.66, 84], [0.67, 74], [0.68, 82], [0.69, 76], [0.7, 80],
  [0.71, 72], [0.72, 78], [0.73, 70], [0.74, 76], [0.75, 68], [0.76, 74], [0.77, 66], [0.78, 72], [0.79, 64],
  [0.8, 70], [0.81, 62], [0.82, 66], [0.83, 60], [0.845, 56], [0.86, 50], [0.874, 45], [0.885, 34], [0.895, 28],
  [0.904, 30], [0.914, 22], [0.924, 26], [0.934, 20], [0.944, 24], [0.954, 18], [0.964, 22], [0.974, 20],
  [0.984, 24], [0.994, 19], [1.004, 22], [1.014, 26], [1.023, 24], [1.03, 50], [1.038, 80], [1.046, 84],
  [1.055, 76], [1.065, 82], [1.075, 74], [1.085, 80], [1.095, 72], [1.105, 78], [1.115, 70], [1.125, 76],
  [1.135, 68], [1.145, 74], [1.155, 70], [1.165, 76], [1.175, 66], [1.185, 72], [1.195, 64], [1.205, 70],
  [1.215, 62], [1.225, 68], [1.235, 60], [1.245, 66], [1.255, 58], [1.265, 62], [1.28, 52], [1.295, 44],
  [1.306, 36], [1.315, 30], [1.321, 32], [1.33, 26], [1.34, 30], [1.351, 24], [1.36, 30], [1.37, 26], [1.38, 32],
  [1.39, 24], [1.4, 30], [1.41, 26], [1.42, 34], [1.43, 24], [1.44, 28], [1.45, 22], [1.46, 30], [1.47, 20],
  [1.478, 12], [1.486, 30], [1.494, 80],
];
const sxtGamma = [
  [0, 70], [0.006, 62], [0.012, 74], [0.018, 58], [0.024, 72], [0.03, 66], [0.036, 78], [0.042, 64], [0.048, 74],
  [0.054, 62], [0.06, 76], [0.066, 68], [0.072, 80], [0.078, 66], [0.084, 74], [0.09, 60], [0.096, 72], [0.102, 78],
  [0.108, 66], [0.114, 82], [0.12, 70], [0.126, 76], [0.132, 64], [0.138, 74], [0.144, 70], [0.15, 80], [0.156, 68],
  [0.162, 76], [0.168, 72], [0.174, 82], [0.18, 70], [0.186, 78], [0.192, 66], [0.198, 76], [0.204, 70], [0.21, 80],
  [0.216, 74], [0.222, 82], [0.228, 88], [0.234, 72], [0.24, 80], [0.246, 68], [0.252, 78], [0.258, 70], [0.264, 82],
  [0.27, 74], [0.276, 78], [0.282, 66], [0.288, 76], [0.294, 70], [0.3, 80], [0.306, 72], [0.312, 84], [0.318, 86],
  [0.324, 74], [0.33, 80], [0.336, 68], [0.342, 76], [0.348, 64], [0.354, 74], [0.36, 68], [0.366, 78], [0.372, 66],
  [0.378, 72], [0.384, 62], [0.39, 70], [0.396, 64], [0.402, 72], [0.408, 60], [0.414, 68], [0.42, 62], [0.426, 70],
  [0.43, 66],
];
const sxtChi = [
  [0, 40], [0.005, 48], [0.01, 34], [0.015, 44], [0.02, 38], [0.025, 50], [0.03, 32], [0.035, 42], [0.04, 36],
  [0.045, 46], [0.05, 30], [0.055, 40], [0.06, 44], [0.065, 36], [0.07, 48], [0.075, 38], [0.08, 42], [0.085, 34],
  [0.09, 52], [0.095, 38], [0.1, 55], [0.105, 40], [0.11, 36], [0.115, 44], [0.12, 34], [0.125, 42], [0.13, 38],
  [0.135, 28], [0.14, 36], [0.145, 44], [0.15, 32], [0.155, 40], [0.16, 36], [0.165, 46], [0.17, 34], [0.175, 42],
  [0.18, 30], [0.185, 40], [0.19, 36], [0.195, 44], [0.2, 34], [0.205, 40], [0.21, 38], [0.215, 48], [0.22, 36],
  [0.225, 42], [0.23, 52], [0.235, 36], [0.24, 44], [0.245, 38], [0.25, 50], [0.255, 34], [0.26, 42], [0.265, 36],
  [0.27, 46], [0.275, 40], [0.28, 44],
];

// ---------- hardness-ratio clouds: dense core outline [HR2, HR1] + stray points ----------
const hrThetaCore = [[0.004, 0.57], [0.016, 0.67], [0.042, 0.74], [0.073, 0.78], [0.105, 0.82], [0.124, 0.84], [0.14, 0.82], [0.13, 0.73], [0.105, 0.68], [0.073, 0.64], [0.042, 0.58], [0.023, 0.48], [0.01, 0.4], [0.003, 0.45]];
const hrThetaStray = [[0.14, 0.78], [0.15, 0.8], [0.145, 0.76], [0.155, 0.79], [0.16, 0.77], [0.13, 0.86]];
const hrBetaCore = [[0.008, 0.476], [0.017, 0.595], [0.025, 0.786], [0.03, 0.833], [0.037, 0.81], [0.039, 0.69], [0.047, 0.643], [0.081, 0.69], [0.119, 0.748], [0.149, 0.81], [0.153, 0.762], [0.149, 0.69], [0.119, 0.643], [0.081, 0.595], [0.051, 0.557], [0.032, 0.5], [0.022, 0.452], [0.008, 0.443]];
const hrBetaStray = [[0.13, 0.82], [0.14, 0.72], [0.1, 0.78], [0.15, 0.66], [0.06, 0.52], [0.09, 0.56], [0.12, 0.62], [0.025, 0.4], [0.015, 0.42], [0.05, 0.78], [0.035, 0.88], [0.14, 0.86], [0.11, 0.6], [0.07, 0.74], [0.125, 0.84], [0.145, 0.64], [0.08, 0.76], [0.055, 0.72], [0.095, 0.58], [0.045, 0.86], [0.02, 0.38], [0.135, 0.68]];
const hrDeltaCore = [[0.012, 0.62], [0.022, 0.6], [0.03, 0.64], [0.032, 0.72], [0.026, 0.78], [0.016, 0.77], [0.01, 0.7]];
const hrDeltaStray = [[0.008, 0.66], [0.034, 0.7]];
const hrRhoCore = [[0.029, 0.59], [0.042, 0.72], [0.08, 0.8], [0.13, 0.85], [0.175, 0.8], [0.194, 0.72], [0.181, 0.64], [0.13, 0.55], [0.08, 0.47], [0.042, 0.42], [0.027, 0.47]];
const hrRhoStray = [[0.02, 0.85], [0.03, 0.92], [0.015, 0.78], [0.19, 0.82], [0.2, 0.74], [0.1, 0.9], [0.06, 0.88], [0.025, 0.4]];
const hrKappaCore = [[0.004, 0.36], [0.001, 0.62], [0.016, 0.79], [0.042, 0.96], [0.067, 1.06], [0.086, 1.09], [0.092, 1.0], [0.073, 0.87], [0.048, 0.74], [0.029, 0.57], [0.016, 0.4]];
const hrKappaStray = [[0.01, 0.3], [0.03, 0.35], [0.05, 0.5], [0.08, 0.9], [0.095, 1.02], [0.06, 0.6]];
const hrOmegaCore = [[0.004, 0.42], [0.004, 0.64], [0.023, 0.81], [0.048, 0.97], [0.08, 1.1], [0.092, 1.05], [0.08, 0.89], [0.054, 0.72], [0.029, 0.55], [0.016, 0.38]];
const hrOmegaStray = [[0.02, 0.3], [0.05, 0.35], [0.08, 0.32], [0.04, 0.28], [0.06, 0.4], [0.03, 0.25], [0.1, 0.9], [0.07, 0.45]];
const hrGammaCore = [[0.014, 0.72], [0.029, 0.89], [0.054, 1.02], [0.08, 1.03], [0.082, 0.93], [0.067, 0.81], [0.042, 0.69], [0.023, 0.64]];
const hrGammaStray = [[0.01, 0.55], [0.015, 0.5], [0.02, 0.6], [0.01, 0.45]];
const hrChiCore = [[0.104, 0.725], [0.123, 0.867], [0.172, 0.958], [0.24, 1.017], [0.283, 1.0], [0.27, 0.85], [0.221, 0.725], [0.162, 0.642], [0.123, 0.658]];
const hrChiStray = [[0.09, 0.7], [0.1, 0.6], [0.29, 0.95], [0.28, 1.05], [0.12, 0.55]];

// ---------- observation labels ----------
const mjds = ["MJD 57451.89", "MJD 57689.10", "MJD 57705.22", "MJD 57892.74", "MJD 57946.34", "MJD 57995.30", "MJD 58008.08", "MJD 58209.13"];
const orbits = ["2351", "5862", "6102", "8876", "9670", "10394", "10583", "13559"];
const classes = ["θ", "β", "δ", "ρ", "κ", "ω", "γ", "χ"];
const xTickVals = [0, 0.5, 1, 1.5, 2, 2.5, 3];
const xTickLabels = ["0", "0.5", "1.0", "1.5", "2.0", "2.5", "3.0"];

const panels = [
  { lc: thetaLC, yDom: [0.4, 69.8], yTicks: [10, 20, 30, 40, 50, 60], yLab: [10, 30, 50],
    sxt: sxtTheta, sY: [48, 201], sYT: [100, 150, 200], sYL: [100, 200], sX: [0, 1], sXT: [0, 0.25, 0.5, 0.75, 1], sXL: [[0, "0.0"], [0.5, "0.5"], [1, "1.0"]],
    core: hrThetaCore, stray: hrThetaStray, coreOp: 1, hX: [0, 0.2], hXT: [0, 0.1, 0.2], hXL: [[0, "0.0"], [0.2, "0.2"]], hY: [0, 1.2], hYT: [0, 0.5, 1], hYL: [[0, "0"], [1, "1"]], hr2Low: false, sxtX: 422 },
  { lc: betaLC, yDom: [0, 40], yTicks: [10, 20, 30], yLab: [10, 20, 30],
    sxt: sxtBeta, sY: [37, 204], sYT: [100, 150, 200], sYL: [100, 200], sX: [0, 1], sXT: [0, 0.25, 0.5, 0.75, 1], sXL: [[0, "0.0"], [0.5, "0.5"], [1, "1.0"]],
    core: hrBetaCore, stray: hrBetaStray, coreOp: 0.78, hX: [0, 0.155], hXT: [0, 0.05, 0.1, 0.15], hXL: [[0, "0.0"], [0.1, "0.1"]], hY: [0.3, 1.0], hYT: [0.5, 0.75, 1], hYL: [[0.5, "0.5"], [1, "1.0"]], hr2Low: true, sxtX: 422 },
  { lc: deltaLC, yDom: [0, 30], yTicks: [5, 10, 15, 20, 25], yLab: [5, 10, 15, 20],
    sxt: sxtDelta, sY: [50, 152], sYT: [50, 100, 150], sYL: [50, 100, 150], sX: [0, 1], sXT: [0, 0.25, 0.5, 0.75, 1], sXL: [[0, "0.0"], [0.5, "0.5"], [1, "1.0"]],
    core: hrDeltaCore, stray: hrDeltaStray, coreOp: 1, hX: [0, 0.2], hXT: [0, 0.1, 0.2], hXL: [[0, "0.0"], [0.2, "0.2"]], hY: [0, 1.2], hYT: [0, 0.5, 1], hYL: [[0, "0"], [1, "1"]], hr2Low: false, sxtX: 422 },
  { lc: rhoLC, yDom: [0, 20], yTicks: [5, 10, 15], yLab: [5, 10, 15],
    sxt: sxtRho, sY: [0, 110], sYT: [0, 50, 100], sYL: [0, 50, 100], sX: [0, 1.5], sXT: [0, 0.25, 0.5, 0.75, 1, 1.25, 1.5], sXL: [[0, "0.0"], [0.5, "0.5"], [1, "1.0"], [1.5, "1.5"]],
    core: hrRhoCore, stray: hrRhoStray, coreOp: 1, hX: [0, 0.2], hXT: [0, 0.1, 0.2], hXL: [[0, "0.0"], [0.2, "0.2"]], hY: [0, 1.2], hYT: [0, 0.5, 1], hYL: [[0, "0"], [1, "1"]], hr2Low: false, sxtX: 413 },
  { lc: kappaLC, yDom: [0.44, 27], yTicks: [5, 10, 15, 20, 25], yLab: [5, 10, 15, 20],
    sxt: sxtKappa, sY: [0, 120], sYT: [0, 50, 100], sYL: [0, 50, 100], sX: [0, 1.5], sXT: [0, 0.25, 0.5, 0.75, 1, 1.25, 1.5], sXL: [[0, "0.0"], [0.5, "0.5"], [1, "1.0"], [1.5, "1.5"]],
    core: hrKappaCore, stray: hrKappaStray, coreOp: 1, hX: [0, 0.2], hXT: [0, 0.1, 0.2], hXL: [[0, "0.0"], [0.2, "0.2"]], hY: [0, 1.2], hYT: [0, 0.5, 1], hYL: [[0, "0"], [1, "1"]], hr2Low: false, sxtX: 413 },
  { lc: omegaLC, yDom: [0, 30], yTicks: [5, 10, 15, 20, 25], yLab: [5, 10, 15, 20],
    sxt: sxtOmega, sY: [0, 130], sYT: [0, 50, 100], sYL: [0, 50, 100], sX: [0, 1.5], sXT: [0, 0.25, 0.5, 0.75, 1, 1.25, 1.5], sXL: [[0, "0.0"], [0.5, "0.5"], [1, "1.0"], [1.5, "1.5"]],
    core: hrOmegaCore, stray: hrOmegaStray, coreOp: 1, hX: [0, 0.2], hXT: [0, 0.1, 0.2], hXL: [[0, "0.0"], [0.2, "0.2"]], hY: [0, 1.2], hYT: [0, 0.5, 1], hYL: [[0, "0"], [1, "1"]], hr2Low: false, sxtX: 413 },
  { lc: gammaLC, yDom: [0, 30], yTicks: [5, 10, 15, 20, 25], yLab: [5, 10, 15, 20],
    sxt: sxtGamma, sY: [20, 101], sYT: [50, 100], sYL: [50, 100], sX: [0, 1], sXT: [0, 0.25, 0.5, 0.75, 1], sXL: [[0, "0.0"], [0.5, "0.5"], [1, "1.0"]],
    core: hrGammaCore, stray: hrGammaStray, coreOp: 1, hX: [0, 0.2], hXT: [0, 0.1, 0.2], hXL: [[0, "0.0"], [0.2, "0.2"]], hY: [0, 1.2], hYT: [0, 0.5, 1], hYL: [[0, "0"], [1, "1"]], hr2Low: false, sxtX: 413 },
  { lc: chiLC, yDom: [0.05, 6.07], yTicks: [1, 2, 3, 4, 5], yLab: [1, 3, 5],
    sxt: sxtChi, sY: [20, 81.5], sYT: [40, 60], sYL: [40, 60], sX: [0, 1], sXT: [0, 0.2, 0.4, 0.6, 0.8, 1], sXL: [[0, "0.0"], [0.4, "0.4"], [0.8, "0.8"], [1, "1.0"]],
    core: hrChiCore, stray: hrChiStray, coreOp: 1, hX: [0, 0.3], hXT: [0, 0.25], hXL: [[0, "0.00"], [0.25, "0.25"]], hY: [0, 1.2], hYT: [0, 0.5, 1], hYL: [[0, "0"], [1, "1"]], hr2Low: true, sxtX: 413 },
];

// ---------- layout ----------
const FONT = "DejaVu Sans, Verdana, sans-serif";
const X0 = 95, X1 = 620, TOP = 5.6, PH = 150.43;
const BLUE = "#4169e1";
const xMain = d3.scaleLinear().domain([0, 3]).range([X0, X1]);

function SxtInset({ p, id }) {
  const L = 275, R = 455, T = 6.5, B = 73;
  const xs = d3.scaleLinear().domain(p.sX).range([L, R]);
  const ys = d3.scaleLinear().domain(p.sY).range([B, T]);
  const line = d3.line().x((d) => xs(d[0])).y((d) => ys(d[1]));
  const maxChars = Math.max(...p.sYL.map((v) => String(v).length));
  const labX = L - (16 + 5.8 * maxChars);
  return (
    <g>
      <defs>
        <clipPath id={`sxtclip${id}`}><rect x={L} y={T} width={R - L} height={B - T} /></clipPath>
      </defs>
      <rect x={L} y={T} width={R - L} height={B - T} fill="white" stroke="none" />
      <path d={line(p.sxt)} fill="none" stroke="#ff0000" strokeWidth={1} strokeLinejoin="round" clipPath={`url(#sxtclip${id})`} />
      <rect x={L} y={T} width={R - L} height={B - T} fill="none" stroke="black" strokeWidth={1} />
      {p.sYT.map((v) => <line key={"yt" + v} x1={L} x2={L + 4} y1={ys(v)} y2={ys(v)} stroke="black" strokeWidth={1} />)}
      {p.sXT.map((v) => <line key={"xt" + v} x1={xs(v)} x2={xs(v)} y1={B} y2={B - 4} stroke="black" strokeWidth={1} />)}
      {p.sYL.map((v) => (
        <text key={"yl" + v} x={L - 3} y={ys(v)} dy="0.35em" textAnchor="end" fontSize={10.5} fontFamily={FONT}>{v}</text>
      ))}
      {p.sXL.map(([v, s]) => (
        <text key={"xl" + v} x={xs(v)} y={B + 12.5} textAnchor="middle" fontSize={10.5} fontFamily={FONT}>{s}</text>
      ))}
      <text x={(L + R) / 2} y={B + 22} textAnchor="middle" fontSize={10.5} fontFamily={FONT}>Time (ks)</text>
      <text transform={`translate(${labX},${(T + B) / 2}) rotate(-90)`} textAnchor="middle" fontSize={10.5} fontFamily={FONT}>Rate (cts/s)</text>
      <text x={p.sxtX} y={24.5} textAnchor="middle" fontSize={12} fontFamily={FONT}>SXT</text>
    </g>
  );
}

function HrInset({ p, id }) {
  const L = 132, R = 189, T = 15.5, B = 63.5;
  const xs = d3.scaleLinear().domain(p.hX).range([L, R]);
  const ys = d3.scaleLinear().domain(p.hY).range([B, T]);
  const blob = d3.line().x((d) => xs(d[0])).y((d) => ys(d[1])).curve(d3.curveCatmullRomClosed);
  const maxChars = Math.max(...p.hYL.map((d) => d[1].length));
  const labX = L - (10 + 5.8 * maxChars);
  return (
    <g>
      <defs>
        <clipPath id={`hrclip${id}`}><rect x={L} y={T} width={R - L} height={B - T} /></clipPath>
      </defs>
      <rect x={L} y={T} width={R - L} height={B - T} fill="white" stroke="none" />
      <g clipPath={`url(#hrclip${id})`}>
        <path d={blob(p.core)} fill="black" stroke="black" strokeWidth={1} fillOpacity={p.coreOp} strokeOpacity={p.coreOp} />
        {p.stray.map((d, i) => <circle key={i} cx={xs(d[0])} cy={ys(d[1])} r={0.7} fill="black" />)}
      </g>
      <rect x={L} y={T} width={R - L} height={B - T} fill="none" stroke="black" strokeWidth={1} />
      {p.hYT.map((v) => <line key={"yt" + v} x1={L} x2={L + 3} y1={ys(v)} y2={ys(v)} stroke="black" strokeWidth={1} />)}
      {p.hXT.map((v) => <line key={"xt" + v} x1={xs(v)} x2={xs(v)} y1={B} y2={B - 3} stroke="black" strokeWidth={1} />)}
      {p.hYL.map(([v, s]) => (
        <text key={"yl" + v} x={L - 3} y={ys(v)} dy="0.35em" textAnchor="end" fontSize={10.5} fontFamily={FONT}>{s}</text>
      ))}
      {p.hXL.map(([v, s]) => (
        <text key={"xl" + v} x={xs(v)} y={B + 13} textAnchor="middle" fontSize={10.5} fontFamily={FONT}>{s}</text>
      ))}
      <text x={(L + R) / 2} y={p.hr2Low ? B + 21.5 : B + 13} textAnchor="middle" fontSize={10.5} fontFamily={FONT}>HR2</text>
      <text transform={`translate(${labX},${(T + B) / 2 - 2}) rotate(-90)`} textAnchor="middle" fontSize={10.5} fontFamily={FONT}>HR1</text>
    </g>
  );
}

function Panel({ p, i }) {
  const top = TOP + i * PH;
  const y = d3.scaleLinear().domain(p.yDom).range([PH, 0]);
  const area = d3.area()
    .x((d) => xMain(d[0]))
    .y0((d) => y(d[1]))
    .y1((d) => y(d.length > 2 ? d[2] : d[1]));
  const isLast = i === panels.length - 1;
  return (
    <g transform={`translate(0,${top})`}>
      <defs>
        <clipPath id={`mainclip${i}`}><rect x={X0} y={0} width={X1 - X0} height={PH} /></clipPath>
      </defs>
      <path d={area(p.lc)} fill={BLUE} stroke={BLUE} strokeWidth={1.2} strokeLinejoin="round" clipPath={`url(#mainclip${i})`} />
      <HrInset p={p} id={i} />
      <SxtInset p={p} id={i} />
      <text x={507} y={17.5} fontSize={14.5} fontFamily={FONT} fontStyle="italic">{mjds[i]}</text>
      <text x={507} y={32} fontSize={14.5} fontFamily={FONT}>
        <tspan fontStyle="italic">Orbit</tspan> {orbits[i]}
      </text>
      <text x={507} y={46.5} fontSize={14.5} fontFamily={FONT} fontStyle="italic">{classes[i]} Class</text>
      <rect x={X0} y={0} width={X1 - X0} height={PH} fill="none" stroke="black" strokeWidth={1.3} />
      {p.yTicks.map((v) => <line key={"yt" + v} x1={X0} x2={X0 + 6.5} y1={y(v)} y2={y(v)} stroke="black" strokeWidth={1.3} />)}
      {p.yLab.map((v) => (
        <text key={"yl" + v} x={91} y={y(v)} dy="0.36em" textAnchor="end" fontSize={19.5} fontFamily={FONT}>{v}</text>
      ))}
      {xTickVals.map((v) => <line key={"xt" + v} x1={xMain(v)} x2={xMain(v)} y1={PH} y2={PH - 6.5} stroke="black" strokeWidth={1.3} />)}
      {isLast && xTickVals.map((v, k) => (
        <text key={"xl" + v} x={xMain(v)} y={PH + 19.5} textAnchor="middle" fontSize={19.5} fontFamily={FONT}>{xTickLabels[k]}</text>
      ))}
    </g>
  );
}

export default function App() {
  return (
    <svg width={657} height={1268} viewBox="0 0 657 1268" style={{ position: "absolute", left: 0, top: 0, display: "block", background: "white" }}>
      <rect x={0} y={0} width={657} height={1268} fill="white" />
      {panels.map((p, i) => <Panel key={i} p={p} i={i} />)}
      <text x={(X0 + X1) / 2} y={1259} textAnchor="middle" fontSize={31} fontFamily={FONT}>Time (ks)</text>
      <text transform="translate(41,610) rotate(-90)" textAnchor="middle" fontSize={32} fontFamily={FONT}>Rate (kcts/s)</text>
    </svg>
  );
}
